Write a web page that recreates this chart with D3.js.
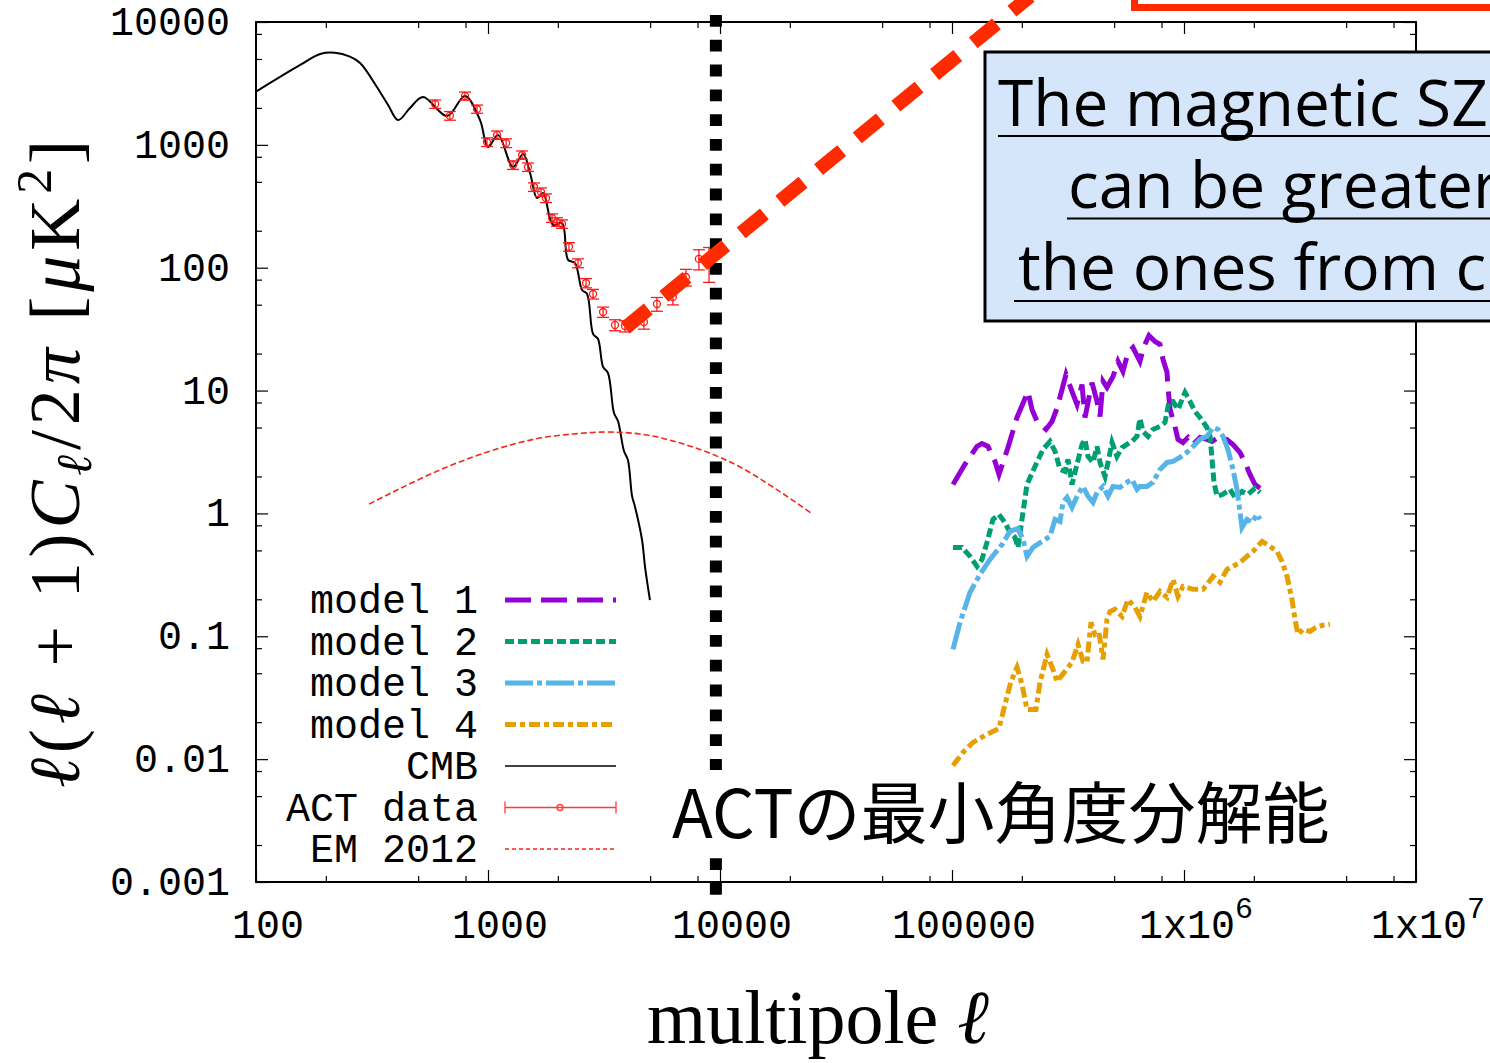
<!DOCTYPE html>
<html>
<head>
<meta charset="utf-8">
<script src="https://cdn.jsdelivr.net/npm/d3@7"></script>
<style>
    body { margin: 0; background: #fff; }
    svg { display: block; }
</style>
</head>
<body>
<svg id="chart" width="1490" height="1063"></svg>
<script>

// CMB power spectrum (theory curve)
var cmbL = [100, 155, 189, 219, 254, 281, 332, 371, 410, 461, 525, 666, 796, 924, 1000, 1105, 1282, 1417, 1518,
    1627, 1727, 1906, 2085, 2213, 2372, 2543, 2673, 2838, 2980, 3133, 3290, 3492, 3633, 3855, 4010, 4176,
    4303, 4613, 4753, 4990];
var cmbV = [2710, 4470, 5495, 5620, 5220, 4640, 2960, 2110, 1590, 1995, 2450, 1720, 2500, 1590, 961, 1200, 661, 843, 590,
    369, 406, 223, 231, 116, 109, 65.9, 61.1, 28.9, 26.3, 15.6, 13.9, 6.57, 5.65, 3.22, 2.72, 1.39,
    1.13, 0.608, 0.366, 0.197];

// ACT data points
var actL = [592, 685, 796, 897, 990, 1094, 1197, 1283, 1403, 1487, 1579, 1692, 1778, 1888, 1983, 2085, 2234,
    2443, 2645, 2836, 3133, 3527, 3896, 4701, 5346, 6266, 7130, 8110, 8970];
var actV = [2150, 1727, 2500, 1958, 1055, 1202, 1035, 686, 827, 660, 454, 413, 369, 254, 236, 227, 148,
    109, 75.1, 61.1, 43.6, 34.2, 33.5, 36.1, 50.7, 57.8, 84.0, 118, 111];
var actErr = [170, 140, 190, 150, 85, 95, 85, 55, 65, 52, 36, 33, 30, 20, 19, 18, 12,
    9, 6.5, 5.5, 4.2, 3.5, 3.5, 4.5, 6.5, 8, 13, 22, 35];

// EM 2012
var emL = [307, 448, 621, 861, 1208, 1675, 2323, 3258, 4521, 6266, 8780, 12190, 16900, 24640];
var emV = [1.19, 1.70, 2.26, 2.88, 3.54, 4.11, 4.43, 4.60, 4.43, 3.89, 3.16, 2.39, 1.64, 1.01];

// magnetic SZ models
var model1L = [1.01e5, 1.137e5, 1.282e5, 1.347e5, 1.429e5, 1.532e5, 1.594e5, 1.743e5, 1.906e5, 2.126e5, 2.212e5,
    2.325e5, 2.542e5, 2.698e5, 2.835e5, 2.98e5, 3.10e5, 3.29e5, 3.458e5, 3.634e5, 3.744e5, 4.013e5, 4.217e5,
    4.345e5, 4.477e5, 4.656e5, 4.943e5, 5.194e5, 5.457e5, 5.736e5, 6.026e5, 6.457e5, 6.724e5, 7.063e5, 7.50e5,
    7.88e5, 8.12e5, 8.45e5, 8.53e5, 8.71e5, 9.14e5, 9.42e5, 9.90e5, 1.040e6, 1.094e6, 1.172e6, 1.256e6, 1.321e6,
    1.402e6, 1.531e6, 1.626e6, 1.742e6, 1.832e6, 1.925e6, 2.023e6, 2.126e6];
var model1V = [1.72, 2.51, 3.51, 3.71, 3.51, 2.65, 2.08, 3.44, 6.04, 9.84, 7.02,
    5.61, 4.83, 5.61, 7.16, 10.2, 13.5, 9.84, 7.71, 11.2, 6.04, 11.6, 8.16,
    6.16, 11.9, 10.6, 13.0, 17.3, 14.3, 20.4, 22.4, 17.3, 22.9, 28.1, 25.1,
    23.8, 17.9, 14.1, 10.6, 7.02, 5.11, 4.00, 3.78, 4.15, 3.64, 4.15, 4.00, 3.85,
    4.15, 4.00, 3.64, 3.14, 2.60, 2.08, 1.72, 1.60];

var model2L = [1.01e5, 1.104e5, 1.196e5, 1.282e5, 1.347e5, 1.415e5, 1.502e5, 1.594e5, 1.692e5, 1.778e5, 1.868e5,
    1.925e5, 2.003e5, 2.105e5, 2.279e5, 2.467e5, 2.645e5, 2.78e5, 2.921e5, 3.069e5, 3.162e5, 3.29e5, 3.458e5,
    3.634e5, 3.744e5, 3.855e5, 4.053e5, 4.217e5, 4.345e5, 4.566e5, 4.703e5, 4.894e5, 5.14e5, 5.405e5, 5.675e5,
    5.969e5, 6.272e5, 6.457e5, 6.657e5, 6.995e5, 7.35e5, 7.88e5, 8.28e5, 8.62e5, 8.97e5, 9.42e5, 1.010e6,
    1.061e6, 1.115e6, 1.172e6, 1.256e6, 1.295e6, 1.321e6, 1.347e6, 1.388e6, 1.472e6, 1.578e6, 1.659e6, 1.778e6,
    1.887e6, 2.023e6, 2.126e6];
var model2V = [0.529, 0.529, 0.447, 0.371, 0.422, 0.581, 0.894, 0.981, 0.845, 0.700, 0.638,
    0.529, 0.894, 1.72, 2.41, 3.32, 3.85, 3.20, 2.28, 2.20, 2.75, 1.72, 2.51,
    3.64, 4.00, 2.91, 2.60, 3.51, 2.60, 2.00, 2.60, 3.78, 2.91, 3.44, 3.64,
    3.85, 4.24, 5.93, 4.65, 4.24, 4.83, 5.11, 5.51, 8.16, 8.16, 7.02, 9.66,
    8.16, 6.76, 6.04, 5.01, 4.24, 2.75, 1.79, 1.38, 1.43, 1.57, 1.35, 1.51,
    1.43, 1.60, 1.48];

var model3L = [1.01e5, 1.083e5, 1.196e5, 1.320e5, 1.458e5, 1.643e5, 1.778e5, 1.925e5, 2.023e5, 2.105e5, 2.234e5,
    2.443e5, 2.645e5, 2.78e5, 2.921e5, 3.009e5, 3.131e5, 3.29e5, 3.493e5, 3.671e5, 3.855e5, 4.053e5, 4.217e5,
    4.477e5, 4.703e5, 4.943e5, 5.298e5, 5.675e5, 5.969e5, 6.272e5, 6.457e5, 6.926e5, 7.35e5, 7.88e5, 8.45e5,
    8.97e5, 9.61e5, 1.030e6, 1.094e6, 1.172e6, 1.256e6, 1.334e6, 1.402e6, 1.472e6, 1.547e6, 1.626e6, 1.692e6,
    1.742e6, 1.778e6, 1.868e6, 1.964e6, 2.064e6, 2.126e6];
var model3V = [0.0782, 0.130, 0.228, 0.319, 0.422, 0.559, 0.714, 0.755, 0.614, 0.447, 0.529,
    0.592, 0.650, 0.894, 0.861, 1.23, 1.35, 1.12, 1.43, 1.66, 1.38, 1.23, 1.48,
    1.66, 1.38, 1.66, 1.63, 1.79, 1.89, 1.57, 1.66, 1.66, 1.79, 2.28, 2.60,
    2.65, 2.86, 3.14, 3.51, 4.00, 4.24, 5.01, 4.83, 4.24, 3.32, 2.28, 1.57,
    1.04, 0.769, 0.894, 0.845, 0.981, 0.894];

var model4L = [1.01e5, 1.115e5, 1.232e5, 1.387e5, 1.594e5, 1.692e5, 1.796e5, 1.906e5, 2.003e5, 2.105e5, 2.301e5,
    2.395e5, 2.568e5, 2.725e5, 2.835e5, 3.069e5, 3.29e5, 3.493e5, 3.671e5, 3.817e5, 3.973e5, 4.134e5, 4.30e5,
    4.477e5, 4.656e5, 4.797e5, 5.042e5, 5.405e5, 5.736e5, 6.149e5, 6.457e5, 6.926e5, 7.35e5, 7.88e5, 8.45e5,
    8.97e5, 9.42e5, 9.90e5, 1.094e6, 1.208e6, 1.334e6, 1.429e6, 1.531e6, 1.626e6, 1.742e6, 1.868e6, 1.984e6,
    2.169e6, 2.348e6, 2.517e6, 2.645e6, 2.780e6, 2.921e6, 3.009e6, 3.10e6, 3.258e6, 3.49e6, 3.741e6, 3.972e6,
    4.26e6];
var model4V = [0.00889, 0.01135, 0.01368, 0.0156, 0.01778, 0.0279, 0.0429, 0.0558, 0.0406, 0.0254, 0.0254,
    0.0421, 0.0712, 0.0537, 0.0429, 0.0518, 0.0613, 0.0859, 0.0624, 0.0613, 0.130, 0.1035, 0.1075,
    0.0648, 0.137, 0.159, 0.166, 0.145, 0.1995, 0.172, 0.145, 0.2275, 0.192, 0.232, 0.207,
    0.290, 0.211, 0.2545, 0.241, 0.241, 0.307, 0.275, 0.350, 0.371, 0.399, 0.447, 0.491,
    0.592, 0.539, 0.491, 0.407, 0.307, 0.1995, 0.137, 0.1035, 0.1137, 0.1095, 0.120, 0.123,
    0.125];

// thick red guide line and ACT resolution limit
var trendL = [3900, 217000];
var trendV = [32.3, 16200];
var resolutionL = 9600;

var xTicks = [100, 1000, 10000, 100000, 1e6, 1e7];
var xTickLabels = ["100", "1000", "10000", "100000", "1x10^6", "1x10^7"];
var yTicks = [0.001, 0.01, 0.1, 1, 10, 100, 1000, 10000];
var yTickLabels = ["0.001", "0.01", "0.1", "1", "10", "100", "1000", "10000"];
var minorMult = [2, 5, 8];

var legendLabels = ["model 1", "model 2", "model 3", "model 4", "CMB", "ACT data", "EM 2012"];
var noteLines = ["The magnetic SZ", "can be greater", "the ones from c"];
var noteJa = "ACTの最小角度分解能";

var red = "#ff2a00",
    monoFont = "'Liberation Mono', 'DejaVu Sans Mono', monospace",
    serifFont = "'Liberation Serif', 'DejaVu Serif', serif";

var modelStyles = [
    {color: "#9400d3", dash: "26,10"},
    {color: "#009e73", dash: "9,4"},
    {color: "#56b4e9", dash: "28,4,5,4"},
    {color: "#e69f00", dash: "11,4,5,4"}
];

var svg = d3.select("#chart");

var x = d3.scaleLog().domain([100, 1e7]).range([256, 1416]),
    y = d3.scaleLog().domain([0.001, 10000]).range([882, 22]);

var minorX = [], minorY = [];
xTicks.slice(0, -1).forEach(function(t) {
    minorMult.forEach(function(m) { minorX.push(t * m); });
});
yTicks.slice(0, -1).forEach(function(t) {
    minorMult.forEach(function(m) { minorY.push(t * m); });
});

// ticks on all four sides, pointing inwards
function drawTicks(axis, transform, values, size) {
    var g = svg.append("g")
        .attr("transform", transform)
        .call(axis.tickValues(values).tickSize(-size).tickSizeOuter(0).tickFormat(""));
    g.select(".domain").remove();
    g.selectAll(".tick line").attr("stroke", "#000").attr("stroke-width", 1.2);
}

drawTicks(d3.axisBottom(x), "translate(0,882)", xTicks, 12);
drawTicks(d3.axisBottom(x), "translate(0,882)", minorX, 6);
drawTicks(d3.axisTop(x), "translate(0,22)", xTicks, 12);
drawTicks(d3.axisTop(x), "translate(0,22)", minorX, 6);
drawTicks(d3.axisLeft(y), "translate(256,0)", yTicks, 12);
drawTicks(d3.axisLeft(y), "translate(256,0)", minorY, 6);
drawTicks(d3.axisRight(y), "translate(1416,0)", yTicks, 12);
drawTicks(d3.axisRight(y), "translate(1416,0)", minorY, 6);

svg.append("rect")
    .attr("x", x.range()[0])
    .attr("y", y.range()[1])
    .attr("width", x.range()[1] - x.range()[0])
    .attr("height", y.range()[0] - y.range()[1])
    .attr("fill", "none")
    .attr("stroke", "#000")
    .attr("stroke-width", 2);

// tick labels
svg.append("g").selectAll("text")
    .data(yTicks)
    .enter()
    .append("text")
        .attr("x", 230)
        .attr("y", function(d) { return y(d) + 13; })
        .attr("text-anchor", "end")
        .style("font-family", monoFont)
        .style("font-size", "40px")
        .text(function(d, i) { return yTickLabels[i]; });

var xLab = svg.append("g").selectAll("text")
    .data(xTicks)
    .enter()
    .append("text")
        .attr("x", function(d) { return x(d) + 12; })
        .attr("y", 938)
        .attr("text-anchor", "middle")
        .style("font-family", monoFont)
        .style("font-size", "40px");

xLab.each(function(d, i) {
    var parts = xTickLabels[i].split("^"),
        t = d3.select(this);
    t.append("tspan").text(parts[0]);
    if (parts.length > 1) {
        t.append("tspan")
            .attr("dy", -20)
            .style("font-size", "30px")
            .text(parts[1]);
    }
});

var line = d3.line()
    .x(function(d) { return x(d[0]); })
    .y(function(d) { return y(d[1]); });

// CMB
svg.append("path")
    .datum(d3.zip(cmbL, cmbV))
    .attr("d", line.curve(d3.curveCatmullRom.alpha(0.5)))
    .attr("fill", "none")
    .attr("stroke", "#000")
    .attr("stroke-width", 2);
line.curve(d3.curveLinear);

// EM 2012
svg.append("path")
    .datum(d3.zip(emL, emV))
    .attr("d", line.curve(d3.curveMonotoneX))
    .attr("fill", "none")
    .attr("stroke", "#f2261a")
    .attr("stroke-width", 1.6)
    .attr("stroke-dasharray", "6,3");
line.curve(d3.curveLinear);

// ACT data with error bars
var act = svg.append("g")
    .attr("stroke", "#ff1a1a")
    .attr("stroke-width", 1.3)
    .attr("fill", "none")
    .selectAll("g")
    .data(d3.range(actL.length))
    .enter()
    .append("g");

act.append("line")
    .attr("x1", function(i) { return x(actL[i]); })
    .attr("x2", function(i) { return x(actL[i]); })
    .attr("y1", function(i) { return y(actV[i] + actErr[i]); })
    .attr("y2", function(i) { return y(actV[i] - actErr[i]); });
act.append("line")
    .attr("x1", function(i) { return x(actL[i]) - 6; })
    .attr("x2", function(i) { return x(actL[i]) + 6; })
    .attr("y1", function(i) { return y(actV[i] + actErr[i]); })
    .attr("y2", function(i) { return y(actV[i] + actErr[i]); });
act.append("line")
    .attr("x1", function(i) { return x(actL[i]) - 6; })
    .attr("x2", function(i) { return x(actL[i]) + 6; })
    .attr("y1", function(i) { return y(actV[i] - actErr[i]); })
    .attr("y2", function(i) { return y(actV[i] - actErr[i]); });
act.append("circle")
    .attr("cx", function(i) { return x(actL[i]); })
    .attr("cy", function(i) { return y(actV[i]); })
    .attr("r", 3.5);

// models
var models = [[model1L, model1V], [model2L, model2V], [model3L, model3V], [model4L, model4V]];
models.forEach(function(m, i) {
    svg.append("path")
        .datum(d3.zip(m[0], m[1]))
        .attr("d", line)
        .attr("fill", "none")
        .attr("stroke", modelStyles[i].color)
        .attr("stroke-width", 5)
        .attr("stroke-linejoin", "miter")
        .attr("stroke-dasharray", modelStyles[i].dash);
});

// ACT angular resolution
svg.append("line")
    .attr("x1", x(resolutionL))
    .attr("x2", x(resolutionL))
    .attr("y1", y(10000) - 7)
    .attr("y2", y(0.001) + 13)
    .attr("stroke", "#000")
    .attr("stroke-width", 12)
    .attr("stroke-dasharray", "11.8,13");

// thick red guide
svg.append("path")
    .datum(d3.zip(trendL, trendV))
    .attr("d", line)
    .attr("stroke", red)
    .attr("stroke-width", 14)
    .attr("stroke-dasharray", "30,20");

// legend
var legend = svg.append("g")
    .selectAll("g")
    .data(legendLabels)
    .enter()
    .append("g")
        .attr("transform", function(d, i) { return "translate(0," + (613 + i * 41.5) + ")"; });

legend.append("text")
    .attr("x", 478)
    .attr("text-anchor", "end")
    .style("font-family", monoFont)
    .style("font-size", "40px")
    .text(function(d) { return d; });

legend.each(function(d, i) {
    var g = d3.select(this);
    if (i < 4) {
        g.append("line")
            .attr("x1", 505).attr("x2", 616).attr("y1", -13).attr("y2", -13)
            .attr("stroke", modelStyles[i].color)
            .attr("stroke-width", 5)
            .attr("stroke-dasharray", modelStyles[i].dash);
    } else if (i === 4) {
        g.append("line")
            .attr("x1", 505).attr("x2", 616).attr("y1", -13).attr("y2", -13)
            .attr("stroke", "#000").attr("stroke-width", 1.5);
    } else if (i === 5) {
        var c = g.append("g").attr("stroke", "#ff3b3b").attr("stroke-width", 1.3).attr("fill", "none");
        c.append("line").attr("x1", 505).attr("x2", 616).attr("y1", -13).attr("y2", -13);
        c.append("line").attr("x1", 505).attr("x2", 505).attr("y1", -19).attr("y2", -7);
        c.append("line").attr("x1", 616).attr("x2", 616).attr("y1", -19).attr("y2", -7);
        c.append("circle").attr("cx", 560).attr("cy", -13).attr("r", 3);
    } else {
        g.append("line")
            .attr("x1", 505).attr("x2", 616).attr("y1", -13).attr("y2", -13)
            .attr("stroke", "#f2261a").attr("stroke-width", 1.5)
            .attr("stroke-dasharray", "4,3");
    }
});

// axis titles
var yTitle = svg.append("text")
    .attr("transform", "translate(79,464) rotate(-90)")
    .attr("text-anchor", "middle")
    .attr("textLength", 648)
    .attr("lengthAdjust", "spacing")
    .style("font-family", serifFont)
    .style("font-size", "72px");
yTitle.append("tspan").style("font-style", "italic").text("ℓ");
yTitle.append("tspan").text("(");
yTitle.append("tspan").style("font-style", "italic").text("ℓ");
yTitle.append("tspan").text(" + 1)");
yTitle.append("tspan").style("font-style", "italic").text("C");
yTitle.append("tspan").attr("dy", 12).style("font-size", "50px").style("font-style", "italic").text("ℓ");
yTitle.append("tspan").attr("dy", -12).text("/2");
yTitle.append("tspan").style("font-style", "italic").text("π");
yTitle.append("tspan").text(" [");
yTitle.append("tspan").style("font-style", "italic").text("μ");
yTitle.append("tspan").text("K");
yTitle.append("tspan").attr("dy", -28).style("font-size", "50px").text("2");
yTitle.append("tspan").attr("dy", 28).text("]");

var xTitle = svg.append("text")
    .attr("x", 818)
    .attr("y", 1043)
    .attr("text-anchor", "middle")
    .style("font-family", serifFont)
    .style("font-size", "76px");
xTitle.append("tspan").text("multipole ");
xTitle.append("tspan").style("font-style", "italic").text("ℓ");

// Japanese caption with white background
svg.append("rect")
    .attr("x", 662).attr("y", 770).attr("width", 684).attr("height", 82)
    .attr("fill", "#fff");
svg.append("text")
    .attr("x", 672)
    .attr("y", 838)
    .style("font-family", "'Noto Sans CJK JP', 'Noto Sans', sans-serif")
    .style("font-size", "67px")
    .text(noteJa);

// note box
svg.append("rect")
    .attr("x", 985).attr("y", 52).attr("width", 520).attr("height", 269)
    .attr("fill", "#d5e6fb")
    .attr("stroke", "#000")
    .attr("stroke-width", 3);

var noteX = [998, 1068, 1018],
    noteUnder = [998, 1067, 1014];
noteLines.forEach(function(t, i) {
    svg.append("text")
        .attr("x", noteX[i])
        .attr("y", 126 + i * 82)
        .style("font-family", "'Open Sans', 'DejaVu Sans', sans-serif")
        .style("font-size", "64px")
        .text(t);
    svg.append("line")
        .attr("x1", noteUnder[i]).attr("x2", 1490)
        .attr("y1", 136 + i * 82.5).attr("y2", 136 + i * 82.5)
        .attr("stroke", "#000")
        .attr("stroke-width", 2);
});

// red frame cut at the top right
svg.append("rect")
    .attr("x", 1134.5).attr("y", -60).attr("width", 500).attr("height", 67.5)
    .attr("fill", "none")
    .attr("stroke", red)
    .attr("stroke-width", 7);

</script>
</body>
</html>
